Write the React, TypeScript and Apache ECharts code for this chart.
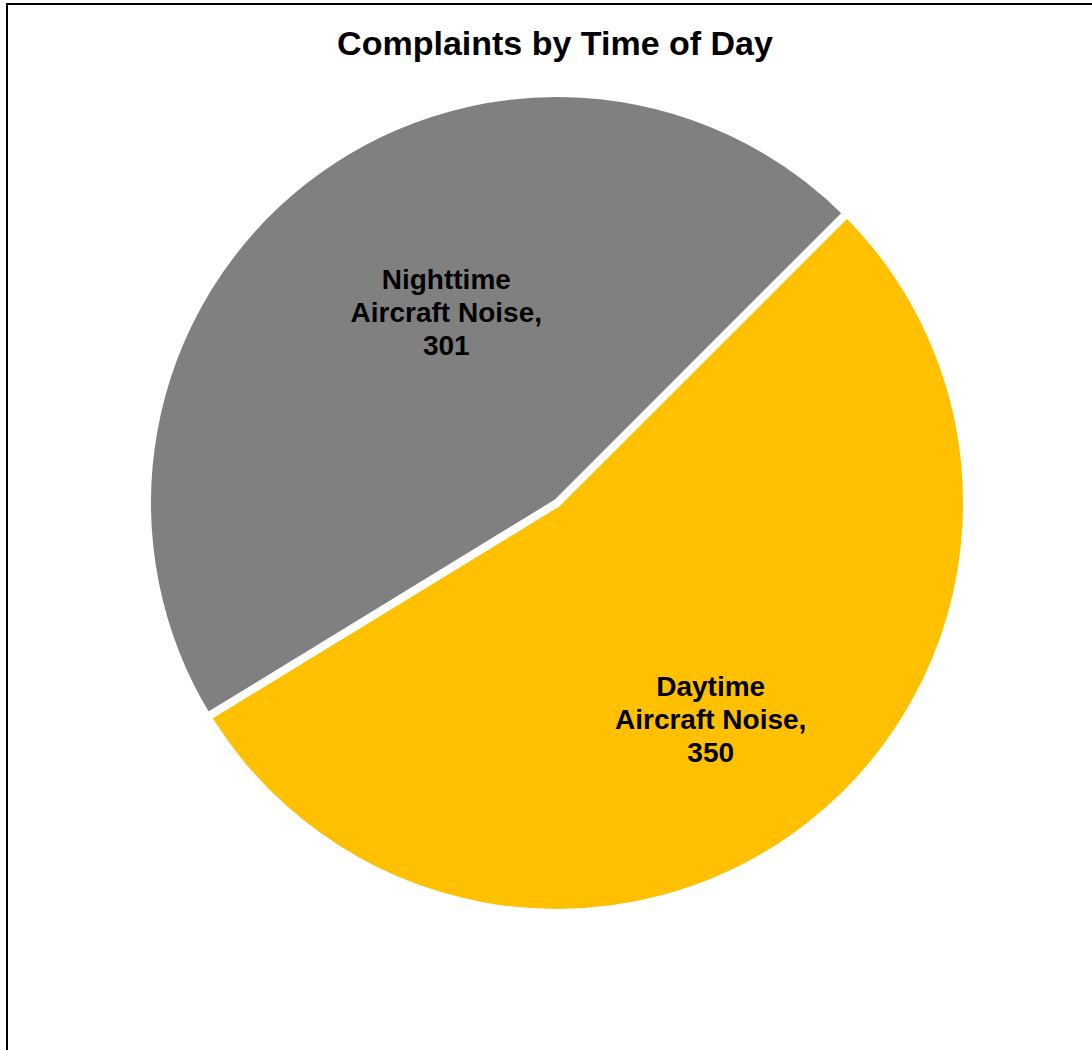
import React, { useEffect, useRef } from "react";
import * as echarts from "echarts";

const titleText = "Complaints by Time of Day";
const categories = ["Daytime\nAircraft Noise", "Nighttime\nAircraft Noise"];
const values = [350, 301];
const colors = ["#FFC000", "#808080"];
const labelOffsets = [
  [25, 53],
  [18, -27],
];

export default function App() {
  const ref = useRef<HTMLDivElement>(null);

  useEffect(() => {
    if (!ref.current) return;
    const chart = echarts.init(ref.current, null, { renderer: "svg" });
    const data = categories.map((name, i) => ({
      name,
      value: values[i],
      itemStyle: { color: colors[i] },
    }));
    chart.setOption({
      animation: false,
      backgroundColor: "transparent",
      title: {
        text: titleText,
        left: 550,
        top: 21,
        textAlign: "center",
        textStyle: {
          fontFamily: "Liberation Sans, Arial, sans-serif",
          fontWeight: "bold",
          fontSize: 34,
          color: "#000",
        },
      },
      series: [
        {
          type: "pie",
          center: [557, 503],
          radius: [0, 410],
          startAngle: 45,
          clockwise: true,
          avoidLabelOverlap: false,
          silent: true,
          itemStyle: { borderColor: "#ffffff", borderWidth: 8 },
          emphasis: { disabled: true },
          label: {
            show: true,
            position: "inside",
            formatter: (p: any) => `${p.name},\n${p.value}`,
            fontFamily: "Liberation Sans, Arial, sans-serif",
            fontWeight: "bold",
            fontSize: 28,
            lineHeight: 33,
            color: "#000",
            align: "center",
          },
          labelLine: { show: false },
          labelLayout: (params: any) => ({
            dx: labelOffsets[params.dataIndex][0],
            dy: labelOffsets[params.dataIndex][1],
          }),
          data,
        },
      ],
    });
    return () => chart.dispose();
  }, []);

  return (
    <div
      style={{
        position: "fixed",
        left: 0,
        top: 0,
        width: 1092,
        height: 1050,
        overflow: "hidden",
        background: "#fff",
      }}
    >
      <div
        style={{
          position: "absolute",
          left: 6,
          top: 3,
          width: 1200,
          height: 1200,
          border: "2px solid #000",
          boxSizing: "border-box",
        }}
      />
      <div
        ref={ref}
        style={{ position: "absolute", left: 0, top: 0, width: 1092, height: 1050 }}
      />
    </div>
  );
}
